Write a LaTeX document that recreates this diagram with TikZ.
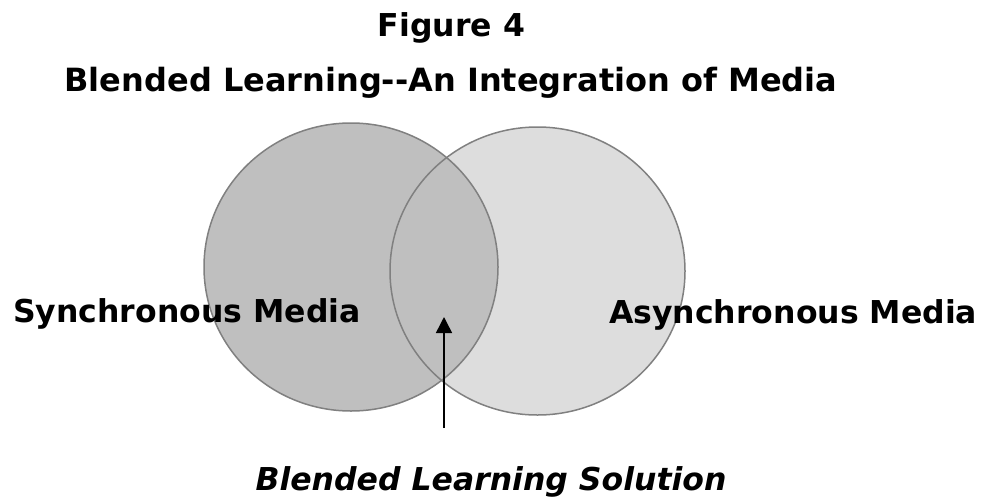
\documentclass[tikz,border=0pt]{standalone}
\usepackage{fontspec}
\setmainfont{DejaVu Sans}
\usetikzlibrary{arrows.meta}
\definecolor{syncgray}{HTML}{BFBFBF}
\definecolor{asyncgray}{HTML}{DDDDDD}
\definecolor{rimgray}{HTML}{808080}
\tikzset{
  heading/.style={font=\fontsize{31.5}{36}\selectfont\bfseries, inner sep=0pt, anchor=base},
  medium/.style={font=\fontsize{31.5}{36}\selectfont\bfseries, inner sep=0pt, anchor=base west},
  rim/.style={draw=rimgray, line width=1.5pt}
}
\begin{document}
\begin{tikzpicture}[x=1pt, y=-1pt]
\useasboundingbox (0,0) rectangle (982,496);

\fill[asyncgray] (537.5,271) ellipse [x radius=147.5, y radius=144];
\fill[syncgray, rim] (351,267) ellipse [x radius=147, y radius=144];
\draw[rim] (537.5,271) ellipse [x radius=147.5, y radius=144];

\node[heading] (fig) at (451.5,36) {Figure 4};
\node[heading, font=\fontsize{32}{36}\selectfont\bfseries] (title) at (451,91) {Blended Learning-{}-An Integration of Media};
\node[medium] (sync) at (13,322) {Synchronous Media};
\node[medium] (async) at (609,323) {Asynchronous Media};
\node[heading, font=\fontsize{31.5}{36}\selectfont\bfseries\itshape] (blend) at (491,490) {Blended Learning Solution};

\coordinate (tail) at (444,428);
\coordinate (tip) at (444,317);
\draw[line width=1.5pt, -{Triangle[width=16pt, length=16pt]}] (tail) -- (tip);
\end{tikzpicture}
\end{document}
